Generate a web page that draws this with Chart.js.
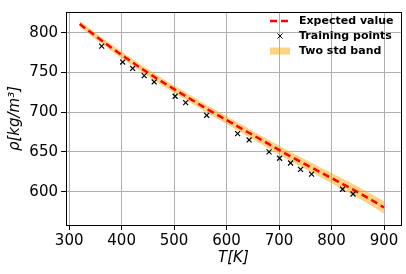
<!DOCTYPE html>
<html>
<head>
<meta charset="utf-8">
<script src="https://cdn.jsdelivr.net/npm/chart.js@4.4.1/dist/chart.umd.min.js"></script>
<style>
  html, body { margin: 0; padding: 0; background: #fff; }
  #wrap { width: 406px; height: 274px; }
</style>
</head>
<body>
<div id="wrap"><canvas id="chart" width="406" height="274"></canvas></div>
<script>
// expected value curve (temperature in K, density in kg/m3)
var curveT = [320, 360, 400, 440, 480, 520, 560, 600, 640, 680, 720, 760, 800, 840, 880, 900];
var curveRho = [811, 791, 772, 754, 737, 721, 705, 690, 675, 660, 645, 631, 617, 603, 588, 580];
// half width of the two std band
var bandHalf = [4, 4, 4.2, 4.3, 4.5, 4.6, 4.8, 5, 5.2, 5.4, 5.7, 6, 6.4, 6.8, 7.3, 7.6];

// training points
var trainT = [362, 402, 421, 443, 462, 502, 522, 562, 621, 643, 681, 701, 722, 741, 762, 821, 841];
var trainRho = [783, 763, 755, 746, 738, 720, 712, 696, 673, 665, 650, 642, 636, 628, 622, 603, 597];

var xTicks = [300, 400, 500, 600, 700, 800, 900];
var yTicks = [600, 650, 700, 750, 800];

var FONT = "'DejaVu Sans', sans-serif";
var gridColor = '#b0b0b0';

function pts(xs, ys) {
  return xs.map(function (x, i) { return { x: x, y: ys[i] }; });
}
var upper = curveRho.map(function (v, i) { return v + bandHalf[i]; });
var lower = curveRho.map(function (v, i) { return v - bandHalf[i]; });

// spines on all four sides + legend inside the plot
var framePlugin = {
  id: 'frame',
  afterDraw: function (chart) {
    var ctx = chart.ctx, a = chart.chartArea;
    ctx.save();
    ctx.strokeStyle = '#000';
    ctx.lineWidth = 1;
    ctx.strokeRect(Math.round(a.left) + 0.5, Math.round(a.top) + 0.5,
      Math.round(a.right - a.left), Math.round(a.bottom - a.top));

    // legend
    var x0 = 270, x1 = 290, tx = 299;
    var rows = [21, 36, 51];
    ctx.font = 'bold 11px ' + FONT;
    ctx.fillStyle = '#000';
    ctx.textBaseline = 'middle';
    ctx.fillText('Expected value', tx, rows[0]);
    ctx.fillText('Training points', tx, rows[1]);
    ctx.fillText('Two std band', tx, rows[2]);

    ctx.strokeStyle = '#ff0000';
    ctx.lineWidth = 2.5;
    ctx.setLineDash([7, 4]);
    ctx.beginPath();
    ctx.moveTo(x0, rows[0]);
    ctx.lineTo(x1, rows[0]);
    ctx.stroke();
    ctx.setLineDash([]);

    ctx.strokeStyle = '#000';
    ctx.lineWidth = 1;
    var cx = 280, cy = rows[1], r = 2.5;
    ctx.beginPath();
    ctx.moveTo(cx - r, cy - r); ctx.lineTo(cx + r, cy + r);
    ctx.moveTo(cx - r, cy + r); ctx.lineTo(cx + r, cy - r);
    ctx.stroke();

    ctx.fillStyle = 'rgba(255,165,0,0.5)';
    ctx.fillRect(x0, rows[2] - 3.5, x1 - x0, 7);
    ctx.restore();
  }
};

new Chart(document.getElementById('chart'), {
  type: 'scatter',
  data: {
    datasets: [
      {
        label: 'Training points',
        data: pts(trainT, trainRho),
        pointStyle: 'crossRot',
        pointRadius: 3.5,
        pointBorderWidth: 1.2,
        borderColor: '#000',
        backgroundColor: '#000',
        showLine: false
      },
      {
        label: 'Expected value',
        data: pts(curveT, curveRho),
        showLine: true,
        borderColor: '#ff0000',
        borderWidth: 2.5,
        borderDash: [7, 4],
        pointRadius: 0,
        cubicInterpolationMode: 'monotone',
        fill: false
      },
      {
        label: 'Two std band',
        data: pts(curveT, upper),
        showLine: true,
        borderWidth: 0,
        borderColor: 'rgba(0,0,0,0)',
        pointRadius: 0,
        cubicInterpolationMode: 'monotone',
        backgroundColor: 'rgba(255,165,0,0.5)',
        fill: '+1'
      },
      {
        label: 'lower',
        data: pts(curveT, lower),
        showLine: true,
        borderWidth: 0,
        borderColor: 'rgba(0,0,0,0)',
        pointRadius: 0,
        cubicInterpolationMode: 'monotone',
        fill: false
      }
    ]
  },
  options: {
    responsive: false,
    animation: false,
    layout: { padding: { top: 7, right: 5, left: 0, bottom: 0 } },
    plugins: {
      legend: { display: false },
      tooltip: { enabled: false }
    },
    scales: {
      x: {
        type: 'linear',
        min: 294,
        max: 932,
        afterBuildTicks: function (s) { s.ticks = xTicks.map(function (v) { return { value: v }; }); },
        afterFit: function (s) { s.height = 49; },
        grid: { color: gridColor, tickColor: '#000', tickLength: 5, lineWidth: 1 },
        border: { display: true, color: '#000' },
        ticks: { color: '#000', font: { family: FONT, size: 15 }, padding: 2, maxRotation: 0 },
        title: {
          display: true, text: 'T[K]', color: '#000',
          font: { family: FONT, size: 15, style: 'italic' },
          padding: { top: 0, bottom: 7 }
        }
      },
      y: {
        type: 'linear',
        min: 558,
        max: 826,
        afterBuildTicks: function (s) { s.ticks = yTicks.map(function (v) { return { value: v }; }); },
        afterFit: function (s) { s.width = 66; },
        grid: { color: gridColor, tickColor: '#000', tickLength: 5, lineWidth: 1 },
        border: { display: true, color: '#000' },
        ticks: { color: '#000', font: { family: FONT, size: 15 }, padding: 3 },
        title: {
          display: true, text: 'ρ[kg/m³]', color: '#000',
          font: { family: FONT, size: 15, style: 'italic' },
          padding: { top: 6, bottom: 0 }
        }
      }
    }
  },
  plugins: [framePlugin]
});
</script>
</body>
</html>
